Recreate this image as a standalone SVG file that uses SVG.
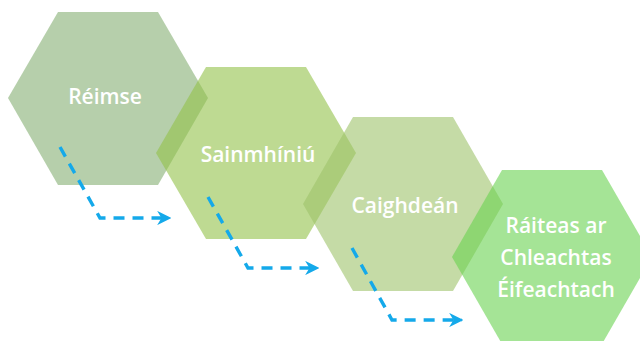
<svg xmlns="http://www.w3.org/2000/svg" width="640" height="341" viewBox="0 0 640 341">
<style>
.hex{fill-opacity:0.6;stroke:none}
.lbl{font-family:"Open Sans","Noto Sans",sans-serif;font-weight:600;font-size:21px;fill:#ffffff;text-anchor:middle}
.arr{fill:none;stroke:#14a9ea;stroke-width:3.4;stroke-dasharray:11 8;marker-end:url(#ah)}
</style>
<defs>
<marker id="ah" viewBox="0 0 10 10" refX="9" refY="5" markerWidth="4.2" markerHeight="4.4" markerUnits="strokeWidth" orient="auto">
<path d="M0,0 L10,5 L0,10 L3,5 Z" fill="#14a9ea"/>
</marker>
</defs>
<rect width="640" height="341" fill="#ffffff"/>
<g id="node-reimse">
<polygon class="hex" fill="#85af73" points="8,98 58,12 158,12 208,98 158,185 58,185"/>
<text class="lbl" x="105" y="104">Réimse</text>
</g>
<g id="node-sainmhiniu">
<polygon class="hex" fill="#93c149" points="156,153 206,67 306,67 356,153 306,239 206,239"/>
<text class="lbl" x="258" y="162">Sainmhíniú</text>
</g>
<g id="node-caighdean">
<polygon class="hex" fill="#9ec36b" points="303,204 353,117 453,117 503,204 453,291 353,291"/>
<text class="lbl" x="405" y="213">Caighdeán</text>
</g>
<g id="node-raiteas">
<polygon class="hex" fill="#69d250" points="452,257 502,170 602,170 652,257 602,344 502,344"/>
<text class="lbl" x="556" y="233">Ráiteas ar</text>
<text class="lbl" x="556" y="265">Chleachtas</text>
<text class="lbl" x="556" y="297">Éifeachtach</text>
</g>
<g id="connectors">
<path class="arr" d="M60,147 L100,218 L170,218"/>
<path class="arr" d="M208,197 L248,268 L318,268"/>
<path class="arr" d="M352,248 L392,320 L462,320"/>
</g>
</svg>
